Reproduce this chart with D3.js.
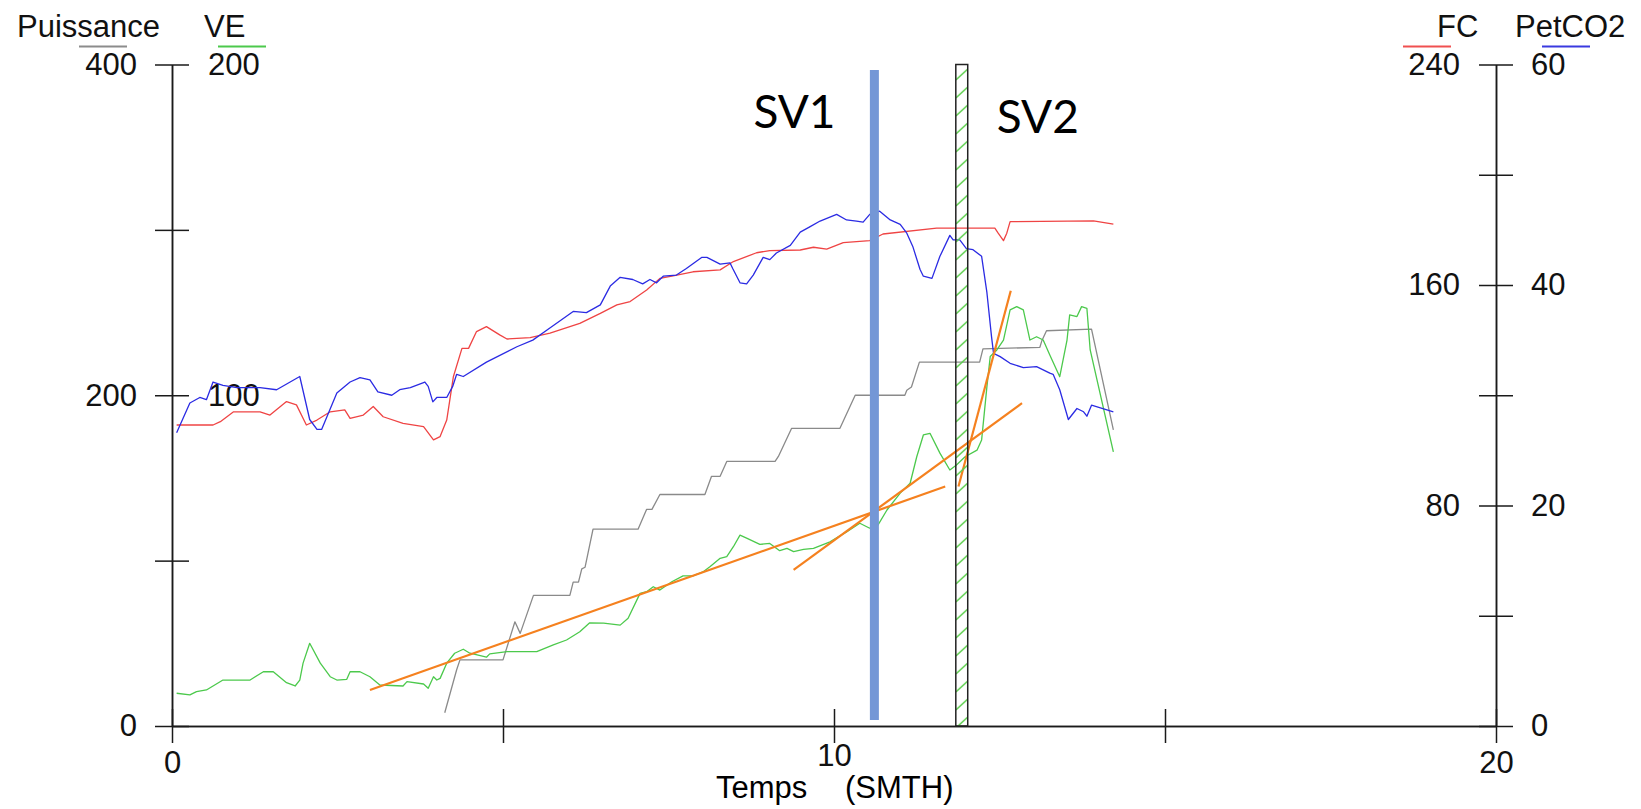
<!DOCTYPE html>
<html>
<head>
<meta charset="utf-8">
<script src="https://cdn.jsdelivr.net/npm/d3@7"></script>
<style>
  body { margin: 0; background: #fff; }
  svg text { font-family: "Liberation Sans", Arial, sans-serif; }
  svg text.sv { font-family: Lato, "Open Sans", sans-serif; }
</style>
</head>
<body>
<svg id="chart" width="1641" height="809"></svg>
<script>
// --- data: [minutes, value] ---
const puissance = [[4.12,8],[4.3,34],[4.35,40],[5.0,40],[5.18,63],[5.26,56],[5.46,79],[6.01,79],[6.06,87],[6.14,87],
  [6.19,95],[6.24,96],[6.36,119],[7.04,119],[7.17,131],[7.25,131],[7.37,140],[8.05,140],[8.15,151],[8.28,151],
  [8.38,160],[9.11,160],[9.16,163],[9.36,180],[10.09,180],[10.32,200],[11.07,200],[11.1,203],[11.17,205],
  [11.29,220],[12.2,220],[12.25,228],[13.11,229],[13.14,233],[13.21,239],[13.89,240],[14.22,179]];

const ve = [[0.07,9.9],[0.27,9.4],[0.37,10.4],[0.52,10.9],[0.77,13.9],[1.18,13.9],[1.38,16.4],[1.53,16.4],[1.73,13.1],
  [1.86,12.1],[1.93,13.9],[1.98,19],[2.08,25],[2.24,19],[2.39,14.9],[2.49,13.9],[2.64,14.1],[2.69,16.4],[2.84,16.4],
  [2.99,14.9],[3.14,12.4],[3.49,12.1],[3.55,13.4],[3.8,12.7],[3.87,11.4],[3.95,14.9],[4.0,13.9],[4.05,14.4],[4.15,19],
  [4.27,22],[4.4,23.2],[4.5,22],[4.75,20.8],[4.8,21.8],[5.06,22.5],[5.51,22.5],[5.76,24.5],[5.96,26],[6.16,28.5],
  [6.31,31.2],[6.52,31.1],[6.77,30.5],[6.89,32.6],[7.07,40.1],[7.17,40.6],[7.27,42.1],[7.37,41.1],[7.55,43.6],
  [7.72,45.4],[7.87,45.4],[8.03,46.7],[8.13,48.2],[8.28,50.7],[8.38,51.2],[8.48,54.2],[8.58,57.7],[8.68,56.8],
  [8.88,54.9],[9.03,55.2],[9.18,53],[9.29,53.7],[9.39,52.7],[9.54,53.4],[9.69,53.7],[9.94,55.7],[10.19,58.7],
  [10.39,61.3],[10.54,59.8],[10.65,60.3],[10.8,65.3],[11.0,70.4],[11.15,73.4],[11.25,81.4],[11.35,88],[11.45,88.5],
  [11.6,82.5],[11.75,77.4],[11.85,78.9],[11.98,81.4],[12.16,83.4],[12.23,86.5],[12.31,102.6],[12.36,111.7],
  [12.46,113.7],[12.56,116.7],[12.66,125.8],[12.76,126.8],[12.86,125.8],[12.96,116.7],[13.06,117.7],[13.16,116.7],
  [13.26,112.2],[13.41,105.6],[13.52,116.7],[13.56,124.3],[13.67,123.8],[13.74,126.8],[13.82,126.3],[13.87,113.7],
  [14.22,82.9]];

const fc = [[0.07,109.2],[0.62,109.2],[0.73,110.4],[0.93,114],[1.33,114],[1.48,112.8],[1.73,117.7],[1.88,116.5],
  [2.03,109.2],[2.19,111],[2.39,114],[2.61,114.7],[2.69,111.6],[2.89,112.8],[3.04,115.9],[3.19,112.2],[3.49,109.8],
  [3.8,108.6],[3.95,103.8],[4.05,105],[4.15,111],[4.25,126.7],[4.38,137],[4.48,137],[4.6,143.1],[4.75,144.9],
  [4.95,141.9],[5.06,140.4],[5.41,140.9],[5.71,142.5],[6.16,146.1],[6.47,149.7],[6.72,152.8],[6.92,154],[7.17,158.2],
  [7.37,162.4],[7.57,163.3],[7.87,164.8],[8.28,165.5],[8.48,168.5],[8.83,171.7],[9.03,172.5],[9.49,172.7],
  [9.69,173.7],[9.89,173],[10.14,175.4],[10.54,176.1],[10.74,178.5],[11.55,180.6],[12.43,180.6],[12.48,178.8],
  [12.56,176.1],[12.61,178.8],[12.66,183],[13.92,183.3],[14.22,182.1]];

const petco2 = [[0.07,26.6],[0.27,29.3],[0.42,29.8],[0.52,29.6],[0.62,31.2],[0.77,30.9],[0.98,30.7],[1.33,30.7],
  [1.58,30.5],[1.93,31.7],[2.08,27.8],[2.19,26.9],[2.26,26.9],[2.49,30.2],[2.69,31.2],[2.84,31.6],[2.99,31.4],
  [3.11,30.3],[3.32,30],[3.44,30.5],[3.6,30.7],[3.82,31.2],[3.87,30.8],[3.94,29.4],[4.0,29.8],[4.15,29.8],[4.24,30.8],
  [4.3,31.9],[4.4,31.7],[4.75,33],[5.21,34.4],[5.45,35],[5.66,35.9],[6.06,37.6],[6.26,37.5],[6.47,38.2],[6.62,39.9],
  [6.77,40.7],[6.96,40.5],[7.11,40.1],[7.22,40.5],[7.32,40.2],[7.42,40.8],[7.62,40.9],[7.77,41.5],[8.0,42.5],
  [8.08,42.5],[8.28,41.9],[8.43,42],[8.47,41.5],[8.58,40.2],[8.68,40.1],[8.78,40.9],[8.93,42.5],[9.03,42.3],
  [9.13,42.9],[9.34,43.6],[9.49,44.8],[9.64,45.3],[9.79,45.8],[10.04,46.4],[10.19,45.9],[10.34,45.8],[10.44,45.7],
  [10.54,46.4],[10.69,46.7],[10.85,45.9],[11.0,45.5],[11.1,44.7],[11.19,43.5],[11.3,41.4],[11.35,40.8],[11.48,40.6],
  [11.6,42.6],[11.75,44.5],[11.8,44.1],[11.9,44.1],[12.0,43.3],[12.1,43.2],[12.23,42.6],[12.31,39.3],[12.38,35.3],
  [12.41,33.8],[12.51,33.5],[12.66,32.9],[12.86,32.5],[13.06,32.6],[13.26,32],[13.31,31.9],[13.41,30.5],
  [13.54,27.8],[13.67,28.8],[13.77,28.5],[13.82,28.1],[13.89,29.1],[14.22,28.5]];

// regression lines on VE: [[t0, ve0], [t1, ve1]]
const veFits = [
  [[2.99,10.9],[11.68,72.4]],
  [[9.39,47.2],[12.84,97.6]],
  [[11.88,72.4],[12.67,131.6]]
];

// thresholds (minutes)
const sv1 = {label: "SV1", t: 10.61};
const sv2 = {label: "SV2", t0: 11.84, t1: 12.02};

// axis ticks
const xTicks = [0, 5, 10, 15, 20], xLabels = [0, 10, 20];
const pTicks = [0, 100, 200, 300, 400], pLabels = [0, 200, 400];
const veTicks = [0, 50, 100, 150, 200], veLabels = [100, 200];
const fcTicks = [0, 40, 80, 120, 160, 200, 240], fcLabels = [80, 160, 240];
const co2Ticks = [0, 10, 20, 30, 40, 50, 60], co2Labels = [0, 20, 40, 60];

const svg = d3.select("#chart");
const FONT = 31;

const x = d3.scaleLinear().domain([0, 20]).range([172, 1496]);
const yP = d3.scaleLinear().domain([0, 400]).range([726, 64.5]);
const yVE = d3.scaleLinear().domain([0, 200]).range([726, 64.5]);
const yFC = d3.scaleLinear().domain([0, 240]).range([726, 64.5]);
const yCO2 = d3.scaleLinear().domain([0, 60]).range([726, 64.5]);

function styleAxis(g) {
  g.attr("font-size", null).attr("font-family", null).attr("color", "#1a1a1a");
  g.selectAll("path.domain, line").attr("stroke-width", 1.5);
  g.selectAll("text").attr("font-size", FONT).attr("fill", "#111");
}

// left axis: Puissance labels on the left, VE on the right
svg.append("g").attr("transform", `translate(${x(0)},0)`)
  .call(d3.axisLeft(yP).tickValues(pTicks).tickSize(17).tickSizeOuter(0).tickPadding(18)
    .tickFormat(d => pLabels.includes(d) ? d : ""))
  .call(styleAxis);
svg.append("g").attr("transform", `translate(${x(0)},0)`)
  .call(d3.axisRight(yVE).tickValues(veTicks).tickSize(17).tickSizeOuter(0).tickPadding(19)
    .tickFormat(d => veLabels.includes(d) ? d : ""))
  .call(styleAxis);

// right axis: FC labels on the left, PetCO2 on the right
svg.append("g").attr("transform", `translate(${x(20)},0)`)
  .call(d3.axisLeft(yFC).tickValues(fcTicks).tickSize(17).tickSizeOuter(0).tickPadding(19)
    .tickFormat(d => fcLabels.includes(d) ? d : ""))
  .call(styleAxis);
svg.append("g").attr("transform", `translate(${x(20)},0)`)
  .call(d3.axisRight(yCO2).tickValues(co2Ticks).tickSize(17).tickSizeOuter(0).tickPadding(18)
    .tickFormat(d => co2Labels.includes(d) ? d : ""))
  .call(styleAxis);

// x axis, ticks cross the line
svg.append("g").attr("transform", `translate(0,${yP(0)})`)
  .call(d3.axisTop(x).tickValues(xTicks).tickSize(17).tickSizeOuter(0).tickFormat(""))
  .call(styleAxis);
const gx = svg.append("g").attr("transform", `translate(0,${yP(0)})`)
  .call(d3.axisBottom(x).tickValues(xTicks).tickSize(17).tickSizeOuter(0).tickPadding(8)
    .tickFormat(d => xLabels.includes(d) ? d : ""))
  .call(styleAxis);
gx.selectAll(".tick text").filter(d => d === 10).attr("y", 18);

svg.append("text").attr("x", 716).attr("y", 798).attr("font-size", FONT).text("Temps");
svg.append("text").attr("x", 845).attr("y", 798).attr("font-size", FONT).text("(SMTH)");

// header labels with colour swatches
const heads = [
  {text: "Puissance", x: 17, sw: 79, color: "#8c8c8c"},
  {text: "VE", x: 204, sw: 218, color: "#4cc94c"},
  {text: "FC", x: 1437, sw: 1403, color: "#f05050"},
  {text: "PetCO2", x: 1515, sw: 1542, color: "#3a3ae0"}
];
heads.forEach(h => {
  svg.append("text").attr("x", h.x).attr("y", 37).attr("font-size", FONT).attr("fill", "#111").text(h.text);
  svg.append("line").attr("x1", h.sw).attr("x2", h.sw + 48).attr("y1", 46.5).attr("y2", 46.5)
    .attr("stroke", h.color).attr("stroke-width", 2);
});

// series
const line = (ys) => d3.line().x(d => x(d[0])).y(d => ys(d[1]));
const series = [
  {data: puissance, y: yP, color: "#8a8a8a"},
  {data: ve, y: yVE, color: "#4cc94c"},
  {data: fc, y: yFC, color: "#ef4444"},
  {data: petco2, y: yCO2, color: "#2b2be3"}
];
series.forEach(s => {
  svg.append("path").datum(s.data).attr("d", line(s.y))
    .attr("fill", "none").attr("stroke", s.color).attr("stroke-width", 1.3)
    .attr("stroke-linejoin", "round");
});

svg.selectAll("path.fit").data(veFits).join("path").attr("class", "fit")
  .attr("d", line(yVE)).attr("fill", "none").attr("stroke", "#f5811f").attr("stroke-width", 2.2);

// SV1 bar
svg.append("rect").attr("x", x(sv1.t) - 4.5).attr("y", 70).attr("width", 9).attr("height", 650)
  .attr("fill", "#7497d6");
svg.append("text").attr("class", "sv").attr("x", x(sv1.t) - 121).attr("y", 128).attr("font-size", 46)
  .attr("fill", "#000").text(sv1.label);

// SV2 hatched band
const pat = svg.append("defs").append("pattern").attr("id", "hatch")
  .attr("patternUnits", "userSpaceOnUse").attr("width", 14).attr("height", 18)
  .attr("x", x(sv2.t0)).attr("y", 64);
pat.append("line").attr("x1", 0).attr("y1", 16).attr("x2", 12).attr("y2", 5)
  .attr("stroke", "#5ccf4c").attr("stroke-width", 1.6);
svg.append("rect").attr("x", x(sv2.t0)).attr("y", yP(400)).attr("width", x(sv2.t1) - x(sv2.t0))
  .attr("height", yP(0) - yP(400)).attr("fill", "url(#hatch)").attr("stroke", "#222").attr("stroke-width", 1.5);
svg.append("text").attr("class", "sv").attr("x", x(sv2.t1) + 29).attr("y", 133).attr("font-size", 46)
  .attr("fill", "#000").text(sv2.label);
</script>
</body>
</html>
